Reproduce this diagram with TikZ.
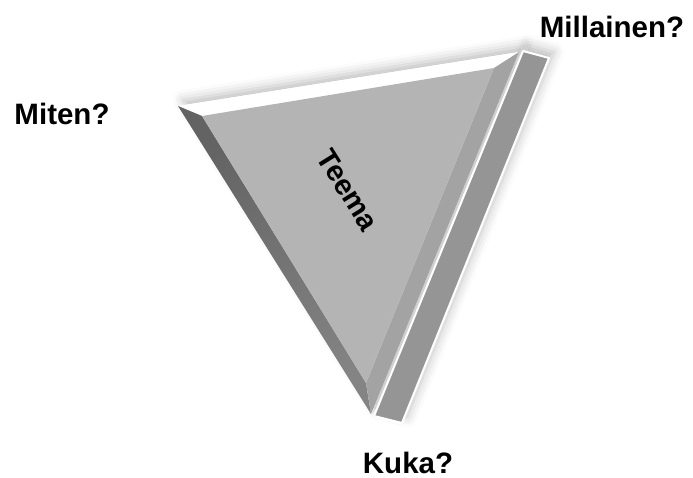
\documentclass[tikz,border=0pt]{standalone}
\usepackage{fontspec}
\setmainfont{Liberation Sans}
\usetikzlibrary{shadows.blur}
\definecolor{faceC}{HTML}{B4B4B4}
\definecolor{leftC}{HTML}{6E6E6E}
\definecolor{rightC}{HTML}{A3A3A3}
\definecolor{slabC}{HTML}{959595}
\tikzset{
  lbl/.style={font=\bfseries\fontsize{29.5}{35}\selectfont, inner sep=0pt, anchor=base},
  shad/.style={blur shadow={shadow xshift=5pt, shadow yshift=6pt, shadow blur radius=10pt, shadow opacity=25}}
}
\begin{document}
\begin{tikzpicture}[x=1pt,y=-1pt]
\useasboundingbox (0,0) rectangle (693,478);
% outer vertices
\coordinate (A) at (178,106);
\coordinate (B) at (519,52);
\coordinate (C) at (371,414);
% inner vertices
\coordinate (Ai) at (202,116);
\coordinate (Bi) at (494,68);
\coordinate (Ci) at (366,383);
% slab
\coordinate (S1) at (523,51);
\coordinate (S2) at (549,58);
\coordinate (S3) at (402,423);
\coordinate (S4) at (374,416);
% shadows
\fill[white, shad] (A) -- (B) -- (C) -- cycle;
\fill[white, shad] (S1) -- (S2) -- (S3) -- (S4) -- cycle;
% top bevel
\fill[white] (A) -- (B) -- (Bi) -- (Ai) -- cycle;
% left bevel
\shade[left color=leftC!90!black, right color=leftC!85!white, shading angle=30] (A) -- (Ai) -- (Ci) -- (C) -- cycle;
% right bevel
\fill[rightC] (B) -- (C) -- (Ci) -- (Bi) -- cycle;
% inner face
\fill[faceC] (Ai) -- (Bi) -- (Ci) -- cycle;
% slab
\fill[slabC, draw=white, line width=2pt, line join=round] (S1) -- (S2) -- (S3) -- (S4) -- cycle;
% labels
\node[lbl] (miten) at (62,125) {Miten?};
\node[lbl] (millainen) at (612,38) {Millainen?};
\node[lbl] (kuka) at (408,473) {Kuka?};
\node[font=\bfseries\fontsize{29}{34}\selectfont, inner sep=0pt, rotate=-58] (teema) at (348,190) {Teema};
\end{tikzpicture}
\end{document}
